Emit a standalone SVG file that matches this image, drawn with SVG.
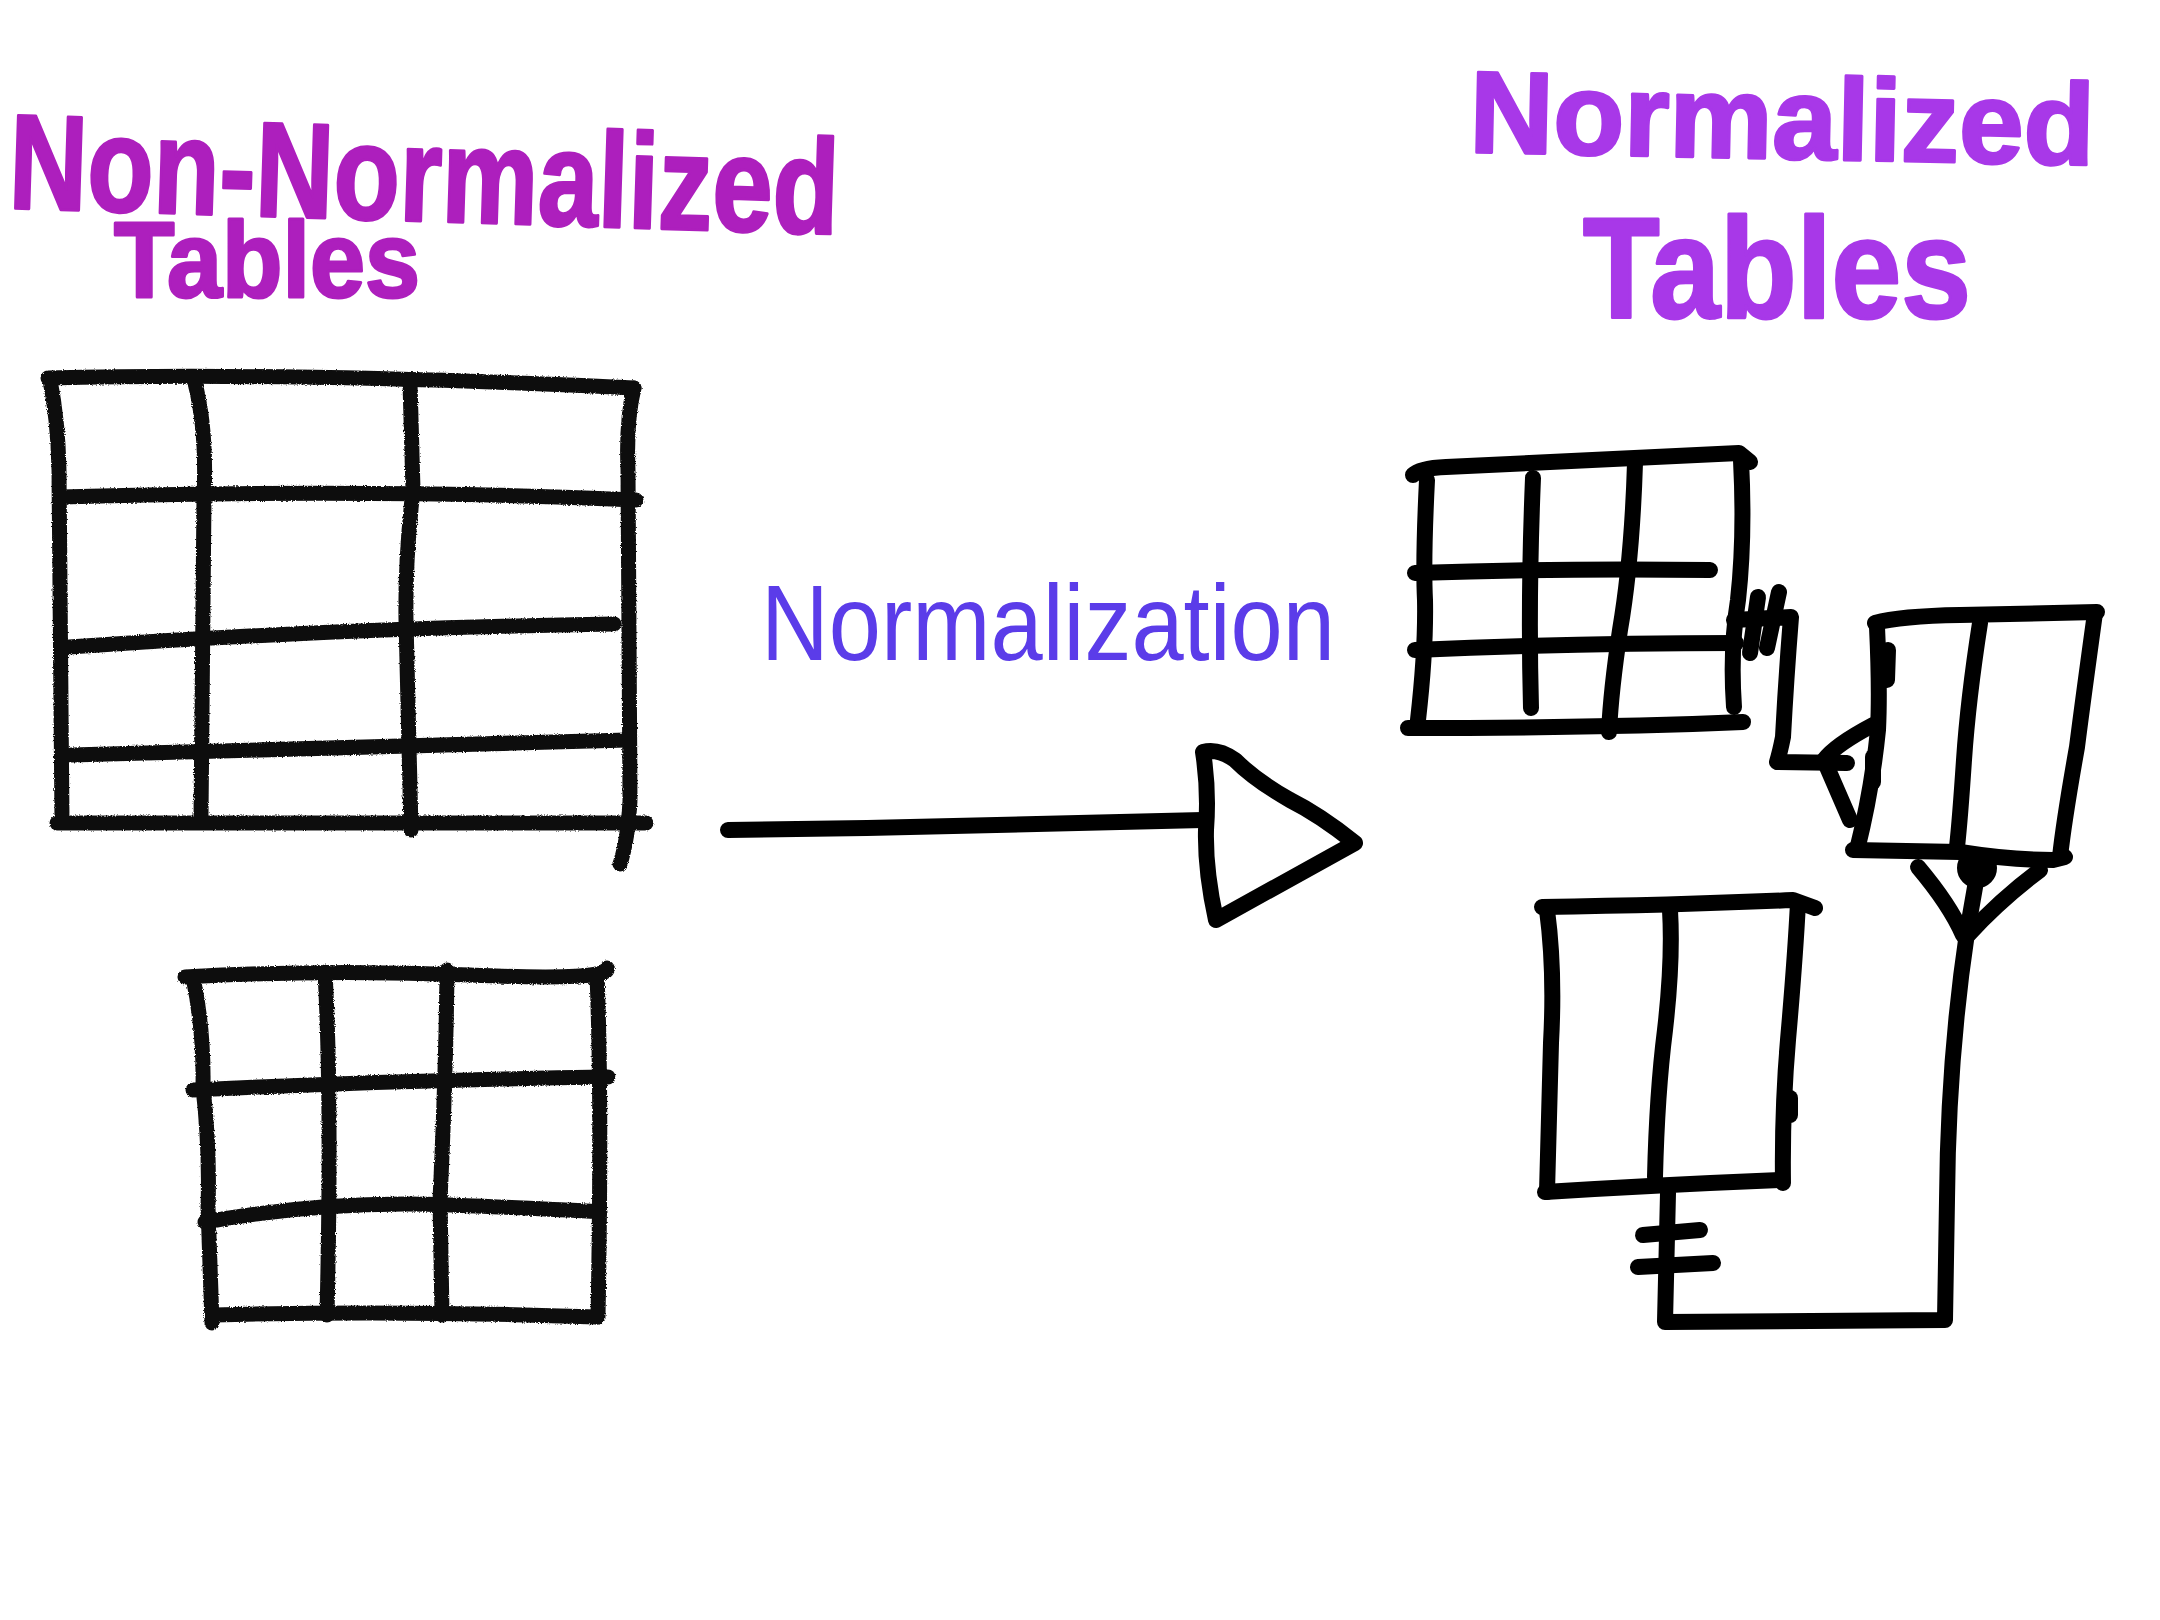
<svg xmlns="http://www.w3.org/2000/svg" width="2160" height="1620" viewBox="0 0 2160 1620">
<defs>
<filter id="pencil" x="-5%" y="-5%" width="110%" height="110%">
<feTurbulence type="fractalNoise" baseFrequency="0.9" numOctaves="2" seed="3" result="n"/>
<feDisplacementMap in="SourceGraphic" in2="n" scale="3" xChannelSelector="R" yChannelSelector="G"/>
</filter>
<style>
.ink{fill:none;stroke:#000;stroke-linecap:round;stroke-linejoin:round}
.soft{stroke:#111;stroke-width:15}
.hard{stroke-width:16}
.arrow{stroke-width:16}
.t1{font-family:"Liberation Sans","DejaVu Sans",sans-serif;font-weight:bold;fill:#ad1fbd;stroke:#ad1fbd;stroke-width:3;stroke-linejoin:round}
.t2{font-family:"Liberation Sans","DejaVu Sans",sans-serif;font-weight:bold;fill:#a838e8;stroke:#a838e8;stroke-width:3;stroke-linejoin:round}
.t3{font-family:"Liberation Sans","DejaVu Sans",sans-serif;fill:#5b3ce9}
</style>
</defs>
<rect width="2160" height="1620" fill="#fff"/>

<g id="title-left">
<text class="t1" x="8" y="208" font-size="135" textLength="830" lengthAdjust="spacingAndGlyphs" transform="rotate(1.8 8 208)">Non-Normalized</text>
<text class="t1" x="114" y="297" font-size="108" textLength="306" lengthAdjust="spacingAndGlyphs">Tables</text>
</g>

<g id="title-right">
<text class="t2" x="1469" y="152" font-size="116" textLength="625" lengthAdjust="spacingAndGlyphs" transform="rotate(1.2 1469 152)">Normalized</text>
<text class="t2" x="1583" y="318" font-size="142" textLength="388" lengthAdjust="spacingAndGlyphs">Tables</text>
</g>

<g id="table-big" class="ink soft" filter="url(#pencil)">
<path d="M48,378 Q300,372 634,388"/>
<path d="M50,380 Q58,420 59,470 L62,822"/>
<path d="M634,388 Q626,420 628,470 L630,800 Q628,840 620,864"/>
<path d="M61,497 Q377,488 636,500"/>
<path d="M69,647 Q340,628 614,624"/>
<path d="M71,755 Q400,746 628,740"/>
<path d="M57,823 L646,823"/>
<path d="M195,383 Q207,430 204,497 L201,817"/>
<path d="M410,383 L413,490 Q405,560 406,620 L411,830"/>
</g>

<g id="table-small" class="ink soft" filter="url(#pencil)">
<path d="M185,977 Q327,969 470,975 T607,968"/>
<path d="M193,977 Q204,1030 203,1087 Q210,1150 208,1207 L212,1323"/>
<path d="M597,975 Q602,1100 598,1317"/>
<path d="M213,1315 Q400,1310 597,1317"/>
<path d="M193,1090 Q400,1080 608,1077"/>
<path d="M205,1222 Q327,1200 450,1205 T600,1212"/>
<path d="M325,972 Q332,1100 327,1315"/>
<path d="M447,970 Q446,1073 440,1200 L442,1315"/>
</g>

<g id="label-normalization">
<text class="t3" x="761" y="660" font-size="108" textLength="574" lengthAdjust="spacingAndGlyphs">Normalization</text>
</g>

<g id="table-top" class="ink hard">
<path d="M1413,475 Q1420,468 1446,467 L1739,453 L1750,462"/>
<path d="M1427,480 Q1423,560 1425,600 Q1426,650 1418,720"/>
<path d="M1741,460 Q1745,537 1738,600 Q1730,650 1734,707"/>
<path d="M1415,573 Q1560,568 1710,570"/>
<path d="M1415,650 Q1580,643 1736,643"/>
<path d="M1408,728 Q1600,728 1743,722"/>
<path d="M1533,478 Q1528,600 1531,708"/>
<path d="M1635,463 Q1632,560 1620,630 Q1611,690 1609,732"/>
</g>

<g id="table-mid" class="ink hard">
<path d="M1875,623 Q1900,616 1960,615 L2097,612"/>
<path d="M1877,627 Q1880,690 1878,730 Q1872,790 1857,850"/>
<path d="M1888,650 L1887,680"/>
<path d="M1873,757 L1873,782"/>
<path d="M2095,613 Q2083,700 2077,747 Q2064,820 2060,857"/>
<path d="M1853,850 L1960,852 Q2010,860 2053,860 L2065,857"/>
<path d="M1980,623 Q1968,700 1964,760 Q1960,820 1957,847"/>
</g>

<g id="table-bottom" class="ink hard">
<path d="M1542,907 Q1680,905 1793,900 L1815,908"/>
<path d="M1547,910 Q1555,970 1551,1043 L1547,1192"/>
<path d="M1798,903 Q1795,960 1788,1040 Q1782,1110 1783,1183"/>
<path d="M1790,1098 L1790,1115"/>
<path d="M1545,1192 Q1657,1185 1780,1180"/>
<path d="M1670,910 Q1673,960 1665,1030 Q1657,1093 1655,1177"/>
</g>

<g id="connectors" class="ink hard">
<path class="arrow" d="M728,830 L867,828 L1203,820"/>
<path class="arrow" d="M1203,752 Q1209,790 1206,830 Q1205,870 1216,920 L1355,843 Q1320,815 1290,800 Q1255,780 1235,760 Q1218,748 1203,752 Z"/>
<path d="M1734,620 L1791,617 Q1786,680 1783,737 Q1780,752 1777,762 L1847,763"/>
<path d="M1758,597 L1750,653"/>
<path d="M1779,592 L1767,648"/>
<path d="M1873,725 Q1835,745 1824,760 L1850,820"/>
<path d="M1918,867 Q1950,905 1963,935"/>
<path d="M2040,870 Q2000,900 1968,935"/>
<circle cx="1977" cy="868" r="12" fill="#000"/>
<path d="M1978,870 L1967,933 Q1948,1060 1947,1200 L1945,1320 L1665,1322 L1668,1193"/>
<path d="M1643,1235 L1700,1230"/>
<path d="M1638,1267 L1713,1263"/>
</g>
</svg>
